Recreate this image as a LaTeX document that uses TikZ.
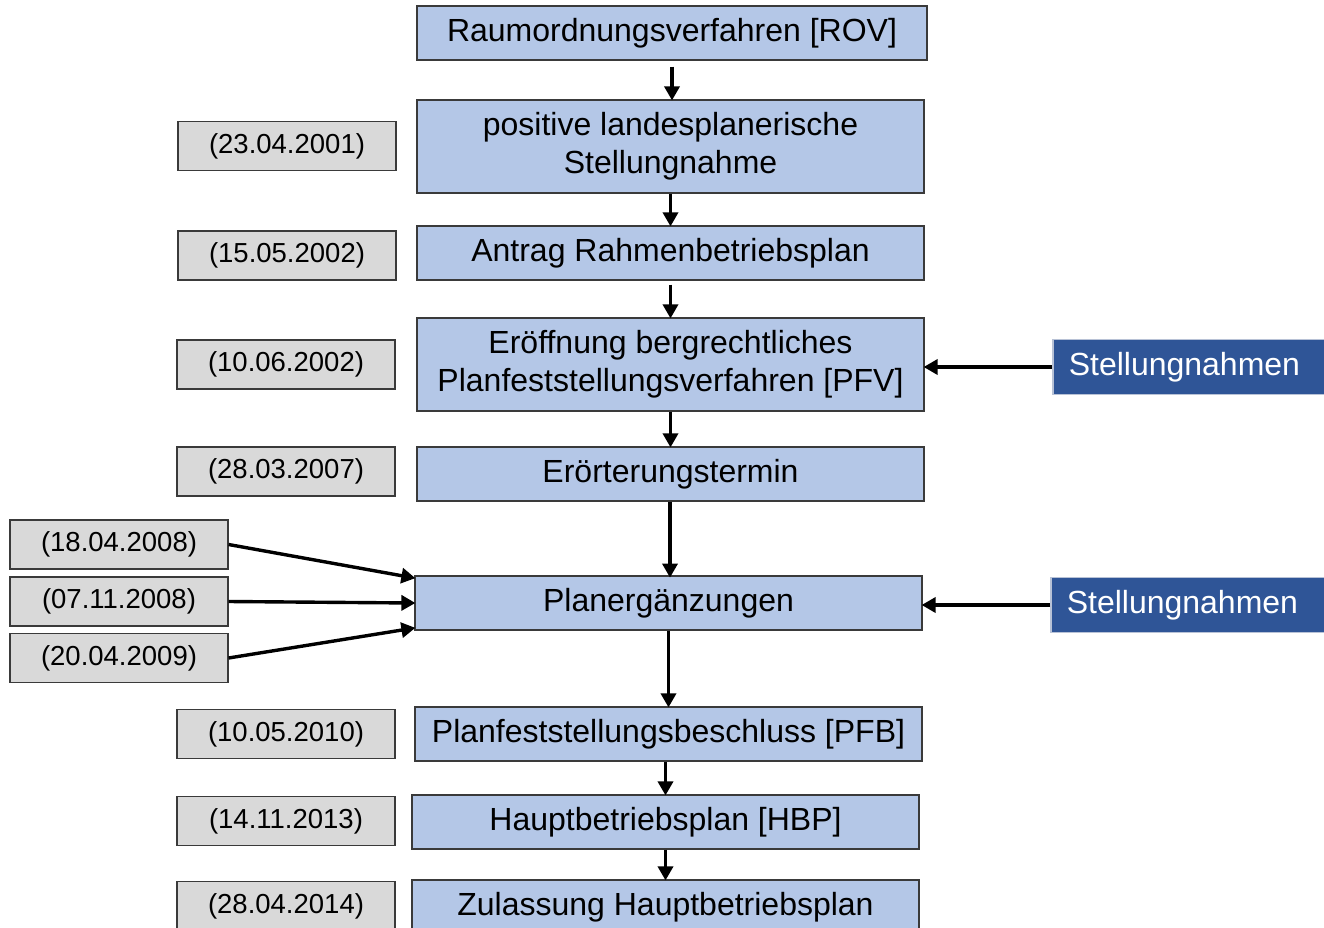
\documentclass[tikz,border=0pt]{standalone}
\usepackage{fontspec}
\setmainfont{Liberation Sans}
\usetikzlibrary{arrows.meta}
\definecolor{mainfill}{HTML}{B4C7E7}
\definecolor{datefill}{HTML}{D9D9D9}
\definecolor{darkfill}{HTML}{2F5597}
\definecolor{boxline}{HTML}{3A3A3A}
\definecolor{lightline}{HTML}{B8C2D6}
\tikzset{
  mainbox/.style={draw=boxline, line width=1.2pt, fill=mainfill, align=center, inner sep=0pt,
    font=\fontsize{32}{38}\selectfont, text=black},
  datebox/.style={draw=boxline, line width=1.2pt, fill=datefill, inner sep=0pt,
    minimum width=218pt, minimum height=49pt, font=\fontsize{27.5}{32}\selectfont},
  stbox/.style={draw=lightline, line width=1.5pt, fill=darkfill, inner sep=0pt, text=white,
    minimum height=55pt, font=\fontsize{32}{38}\selectfont},
  arr/.style={line width=3.4pt, -{Triangle[length=14pt,width=15pt]}, shorten >=-1pt}
}
\begin{document}
\begin{tikzpicture}[x=1pt,y=-1pt]
\useasboundingbox (0,0) rectangle (1324,928);
\fill[white] (0,0) rectangle (1324,928);
% main column
\node[mainbox, minimum width=510pt, minimum height=54pt] (rov) at (672,33) {Raumordnungsverfahren [ROV]};
\node[mainbox, minimum width=507pt, minimum height=93pt] (pos) at (670.5,146.5) {positive landesplanerische\\Stellungnahme};
\node[mainbox, minimum width=507pt, minimum height=54pt] (antrag) at (670.5,253) {Antrag Rahmenbetriebsplan};
\node[mainbox, minimum width=507pt, minimum height=93pt] (pfv) at (670.5,364.5) {Eröffnung bergrechtliches\\Planfeststellungsverfahren [PFV]};
\node[mainbox, minimum width=507pt, minimum height=54pt] (eroe) at (670.5,474) {Erörterungstermin};
\node[mainbox, minimum width=507pt, minimum height=54pt] (plan) at (668.5,603) {Planergänzungen};
\node[mainbox, minimum width=507pt, minimum height=54pt] (pfb) at (668.5,734) {Planfeststellungsbeschluss [PFB]};
\node[mainbox, minimum width=507pt, minimum height=54pt] (hbp) at (665.5,822) {Hauptbetriebsplan [HBP]};
\node[mainbox, minimum width=507pt, minimum height=54pt] (zul) at (665.5,907) {Zulassung Hauptbetriebsplan};
% dates
\node[datebox] (d1) at (287,146) {(23.04.2001)};
\node[datebox] (d2) at (287,255.5) {(15.05.2002)};
\node[datebox] (d3) at (286,364.5) {(10.06.2002)};
\node[datebox] (d4) at (286,471.5) {(28.03.2007)};
\node[datebox] (d5) at (119,544.5) {(18.04.2008)};
\node[datebox] (d6) at (119,601.5) {(07.11.2008)};
\node[datebox] (d7) at (119,658) {(20.04.2009)};
\node[datebox] (d8) at (286,734) {(10.05.2010)};
\node[datebox] (d9) at (286,821) {(14.11.2013)};
\node[datebox] (d10) at (286,906) {(28.04.2014)};
% Stellungnahmen
\node[stbox, minimum width=290pt, anchor=west, text width=290pt, align=left] (s1) at (1052,367) {\hspace*{16pt}Stellungnahmen};
\node[stbox, minimum width=290pt, anchor=west, text width=290pt, align=left] (s2) at (1050,605) {\hspace*{16pt}Stellungnahmen};
% vertical arrows
\draw[arr] ([yshift=-6pt]rov.south) -- (rov.south |- pos.north);
\draw[arr] (pos.south) -- (antrag.north);
\draw[arr] ([yshift=-4pt]antrag.south) -- (pfv.north);
\draw[arr] (pfv.south) -- (eroe.north);
\draw[arr] (eroe.south -| plan.north) ++(1.5,0) -- ++(0,75);
\draw[arr] (plan.south) -- (pfb.north);
\draw[arr] (pfb.south -| hbp.north) -- (hbp.north);
\draw[arr] (hbp.south) -- (zul.north);
% side arrows
\draw[arr] (s1.west) -- (s1.west -| pfv.east);
\draw[arr] (s2.west) -- (s2.west -| plan.east);
\draw[arr] (d5.east) -- ([yshift=25pt]plan.west);
\draw[arr] (d6.east) -- (plan.west);
\draw[arr] (d7.east) -- ([yshift=-25pt]plan.west);
\end{tikzpicture}
\end{document}
